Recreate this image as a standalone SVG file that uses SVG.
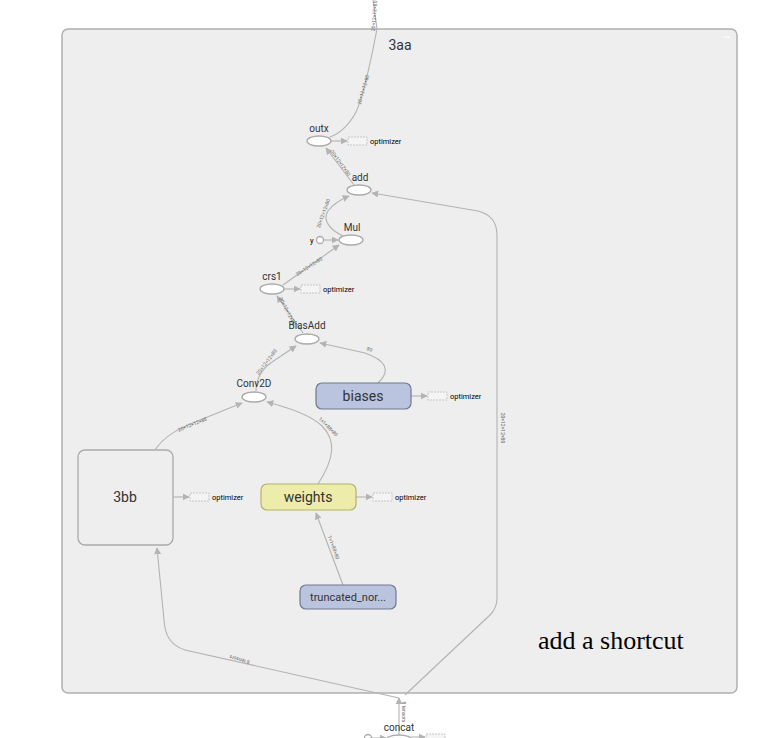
<svg xmlns="http://www.w3.org/2000/svg" width="774" height="738" viewBox="0 0 774 738">
<style>
.lbl{font-family:Roboto,"Liberation Sans",sans-serif;fill:#333;font-size:10px;text-anchor:middle}
.big{font-family:Roboto,"Liberation Sans",sans-serif;fill:#333;font-size:14px;text-anchor:middle}
.opt{font-family:Roboto,"Liberation Sans",sans-serif;fill:#000;font-size:7.5px}
.el{font-family:Roboto,"Liberation Sans",sans-serif;fill:#666;font-size:5px;text-anchor:middle}
.op{fill:#fff;stroke:#aaa;stroke-width:1.3}
.dash{fill:#f4f4f4;stroke:#bbb;stroke-width:0.8;stroke-dasharray:2,1}
.edge{fill:none;stroke:#b3b3b3;stroke-width:1.1}
.ar{marker-end:url(#arr)}
</style>
<defs>
<marker id="arr" viewBox="0 0 10 10" refX="9" refY="5" markerWidth="7" markerHeight="7" markerUnits="userSpaceOnUse" orient="auto">
<path d="M0,0 L10,5 L0,10 Z" fill="#b3b3b3"/>
</marker>
</defs>
<rect width="774" height="738" fill="#fff"/>
<g id="container">
<rect x="62" y="29" width="675" height="664" rx="6" fill="#eeeeee" stroke="#b0b0b0" stroke-width="1.5"/>
<line x1="724" y1="37" x2="730" y2="37" stroke="#fff" stroke-width="1"/>
<text class="big" x="400" y="50">3aa</text>
</g>
<g id="edges">
<path class="edge" d="M373,0 L377,29 C372,55 364,95 356,112 C348,127 338,134 330,137"/>
<path class="edge ar" d="M354,185 L326,148"/>
<path class="edge ar" d="M343,236 C330,230 322,220 328,211 C333,204 342,199 349,196"/>
<path class="edge ar" d="M405,695 L490,615 C495,610 497,605 497,598 L497,235 C497,222 490,214 478,211 L372,193"/>
<path class="edge ar" d="M324,240 L338,240"/>
<path class="edge ar" d="M283,285 L339,245"/>
<path class="edge ar" d="M303,333 L277,296"/>
<path class="edge ar" d="M256,391 C256,378 262,368 275,360 L296,346"/>
<path class="edge ar" d="M378,383 C392,370 385,360 365,353 L320,343"/>
<path class="edge ar" d="M155,450 C165,435 180,428 200,420 L242,403"/>
<path class="edge ar" d="M318,484 C335,458 336,440 322,426 C311,415 290,408 267,402"/>
<path class="edge ar" d="M343,585 L316,513"/>
<path class="edge ar" d="M399,698 L185,650 C170,645 165,635 164,620 L157,548"/>
<path class="edge ar" d="M399,738 L399,698"/>
<path class="edge ar" d="M331,141 L347,141"/>
<path class="edge ar" d="M284,289 L300,289"/>
<path class="edge ar" d="M411,396 L427,396"/>
<path class="edge ar" d="M173,497 L189,497"/>
<path class="edge ar" d="M356,497 L372,497"/>
<path class="edge ar" d="M411,737 L425,737"/>
<path class="edge ar" d="M372,738 L386,738"/>
<text class="el" transform="translate(376,16) rotate(-85)">20×12×12×80</text>
<text class="el" transform="translate(365,90) rotate(-74)">20×12×12×80</text>
<text class="el" transform="translate(339,164) rotate(54)">20×12×12×80</text>
<text class="el" transform="translate(325,214) rotate(-70)">20×12×12×80</text>
<text class="el" transform="translate(310,268) rotate(-33)">20×12×12×80</text>
<text class="el" transform="translate(286,312) rotate(62)">20×12×12×80</text>
<text class="el" transform="translate(268,363) rotate(-53)">20×12×12×80</text>
<text class="el" transform="translate(193,426) rotate(-22)">20×12×12×88</text>
<text class="el" transform="translate(327,428) rotate(45)">1×1×88×80</text>
<text class="el" transform="translate(332,548) rotate(70)">1×1×88×80</text>
<text class="el" transform="translate(369,351) rotate(20)">80</text>
<text class="el" transform="translate(501,428) rotate(90)">20×12×12×80</text>
<text class="el" transform="translate(240,658) rotate(196)">8 tensors</text>
<text class="el" transform="translate(402,712) rotate(90)">8 tensors</text>
</g>
<g id="outx">
<ellipse class="op" cx="319" cy="141" rx="12" ry="5"/>
<text class="lbl" x="319" y="132">outx</text>
<rect class="dash" x="348" y="137" width="19" height="8"/>
<text class="opt" x="370" y="144">optimizer</text>
</g>
<g id="add">
<ellipse class="op" cx="359" cy="190" rx="12" ry="5"/>
<text class="lbl" x="360" y="181">add</text>
</g>
<g id="Mul">
<ellipse class="op" cx="351" cy="240" rx="12" ry="5"/>
<text class="lbl" x="352" y="231">Mul</text>
<circle class="op" cx="320" cy="240" r="3.5"/>
<text class="opt" x="310" y="243">y</text>
</g>
<g id="crs1">
<ellipse class="op" cx="272" cy="289" rx="12" ry="5"/>
<text class="lbl" x="272" y="280">crs1</text>
<rect class="dash" x="301" y="285" width="19" height="8"/>
<text class="opt" x="323" y="292">optimizer</text>
</g>
<g id="BiasAdd">
<ellipse class="op" cx="307" cy="339" rx="12" ry="5"/>
<text class="lbl" x="307" y="329">BiasAdd</text>
</g>
<g id="Conv2D">
<ellipse class="op" cx="254" cy="397" rx="12" ry="5"/>
<text class="lbl" x="254" y="387">Conv2D</text>
</g>
<g id="biases">
<rect x="316" y="383" width="95" height="26" rx="6" fill="#bbc4de" stroke="#6f7890" stroke-width="1.2"/>
<text class="big" x="363" y="401">biases</text>
<rect class="dash" x="428" y="392" width="19" height="8"/>
<text class="opt" x="450" y="399">optimizer</text>
</g>
<g id="3bb">
<rect x="78" y="450" width="95" height="95" rx="7" fill="#eeeeee" stroke="#aaa" stroke-width="1.3"/>
<text class="big" x="125" y="502">3bb</text>
<rect class="dash" x="190" y="493" width="19" height="8"/>
<text class="opt" x="212" y="500">optimizer</text>
</g>
<g id="weights">
<rect x="261" y="484" width="95" height="26" rx="6" fill="#edecaa" stroke="#b3b26c" stroke-width="1.2"/>
<text class="big" x="308" y="502">weights</text>
<rect class="dash" x="373" y="493" width="19" height="8"/>
<text class="opt" x="395" y="500">optimizer</text>
</g>
<g id="truncated_normal">
<rect x="300" y="585" width="96" height="24" rx="6" fill="#bbc4de" stroke="#6f7890" stroke-width="1.2"/>
<text class="lbl" x="348" y="601" style="font-size:11px">truncated_nor...</text>
</g>
<g id="concat">
<ellipse class="op" cx="399" cy="740" rx="13" ry="5"/>
<text class="lbl" x="399" y="731">concat</text>
<circle class="op" cx="368" cy="738" r="3.5"/>
<rect class="dash" x="426" y="734" width="19" height="8"/>
</g>
<text x="538" y="649" font-family="'Liberation Serif',serif" font-size="26" fill="#000">add a shortcut</text>
</svg>
